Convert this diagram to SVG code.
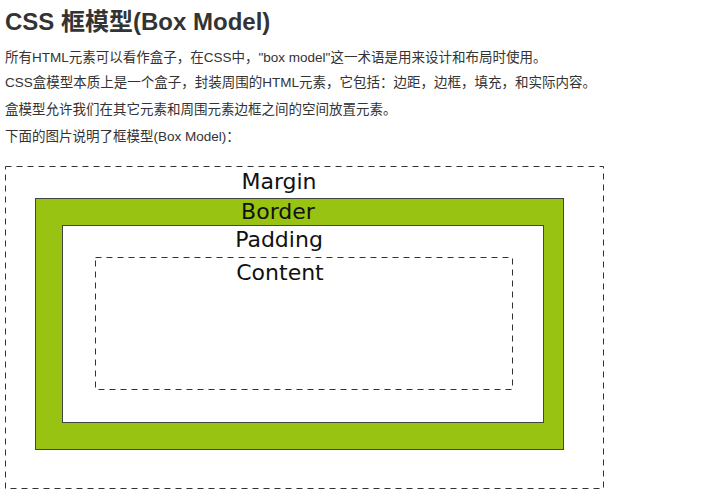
<svg xmlns="http://www.w3.org/2000/svg" width="727" height="499" viewBox="0 0 727 499">
<style>
.t{font-family:"Liberation Sans","Noto Sans CJK SC",sans-serif;fill:#333;font-size:13.5px}
.h{font-family:"Liberation Sans","Noto Sans CJK SC",sans-serif;fill:#333;font-size:24px;font-weight:bold}
.lbl{font-family:"DejaVu Sans",Verdana,sans-serif;font-size:22px;fill:#111;text-anchor:middle}
.dash{fill:none;stroke:#333;stroke-width:1;stroke-dasharray:6 5}
</style>
<rect width="727" height="499" fill="#fff"/>
<text class="h" x="5" y="30">CSS 框模型(Box Model)</text>
<text class="t" x="5" y="62">所有HTML元素可以看作盒子，在CSS中，"box model"这一术语是用来设计和布局时使用。</text>
<text class="t" x="5" y="87">CSS盒模型本质上是一个盒子，封装周围的HTML元素，它包括：边距，边框，填充，和实际内容。</text>
<text class="t" x="5" y="114">盒模型允许我们在其它元素和周围元素边框之间的空间放置元素。</text>
<text class="t" x="5" y="141">下面的图片说明了框模型(Box Model)：</text>
<g id="margin">
<rect class="dash" x="5.5" y="166.5" width="598" height="322"/>
<text class="lbl" x="279" y="189">Margin</text>
</g>
<g id="border">
<rect x="35.5" y="198.5" width="528" height="251" fill="#99c312" stroke="#444" stroke-width="1"/>
<text class="lbl" x="278" y="219">Border</text>
</g>
<g id="padding">
<rect x="62.5" y="225.5" width="481" height="197" fill="#fff" stroke="#444" stroke-width="1"/>
<text class="lbl" x="279" y="247">Padding</text>
</g>
<g id="content">
<rect class="dash" x="95.5" y="257.5" width="417" height="132"/>
<text class="lbl" x="280" y="280">Content</text>
</g>
<g id="connectors"></g>
</svg>
